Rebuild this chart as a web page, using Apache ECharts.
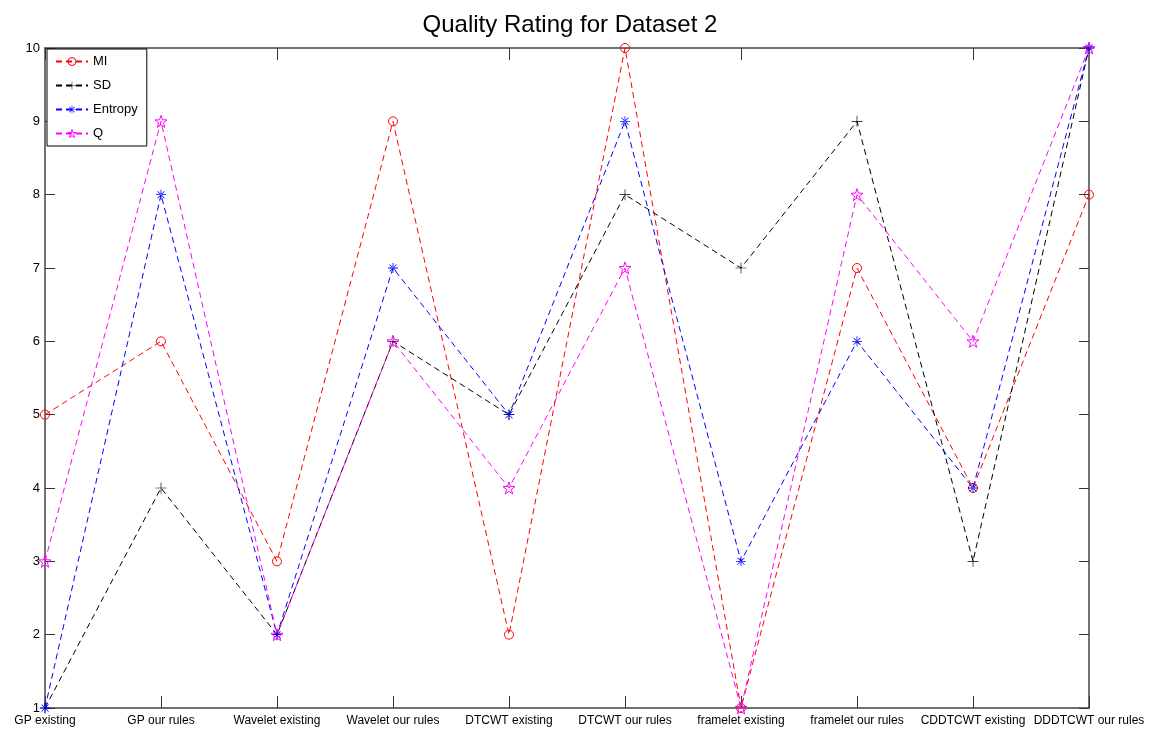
<!DOCTYPE html>
<html><head><meta charset="utf-8">
<script src="https://cdn.jsdelivr.net/npm/echarts@6/dist/echarts.min.js"></script>
<style>html,body{margin:0;padding:0;background:#fff}#c{width:1157px;height:735px}</style>
</head><body><div id="c"></div>
<script>
var categories = ["GP existing","GP our rules","Wavelet existing","Wavelet our rules","DTCWT existing","DTCWT our rules","framelet existing","framelet our rules","CDDTCWT existing","DDDTCWT our rules"];
var miValues = [5,6,3,9,2,10,1,7,4,8];
var sdValues = [1,4,2,6,5,8,7,9,3,10];
var entropyValues = [1,8,2,7,5,9,3,6,4,10];
var qValues = [3,9,2,6,4,7,1,8,6,10];
var yTicks = [1,2,3,4,5,6,7,8,9,10];

var FONT = '"Liberation Sans",Arial,sans-serif';
var plusPath = 'path://M-0.6,-10L0.6,-10L0.6,10L-0.6,10Z M-10,-0.6L10,-0.6L10,0.6L-10,0.6Z';
var astPath = 'path://M-0.8,-10L0.8,-10L0.8,10L-0.8,10Z M-10,-0.8L10,-0.8L10,0.8L-10,0.8Z M-7.5,-6.5L6.5,7.5L7.5,6.5L-6.5,-7.5Z M-7.5,6.5L-6.5,7.5L7.5,-6.5L6.5,-7.5Z';
var starPath = (function(){var p=[];for(var i=0;i<10;i++){var r=i%2?4:10;var a=-Math.PI/2+i*Math.PI/5;p.push((r*Math.cos(a)).toFixed(2)+','+(r*Math.sin(a)).toFixed(2));}return 'path://M'+p.join('L')+'Z';})();

function mk(name, data, color, symbol, size, hollow){
  return {
    name: name, type: 'line', data: data, xAxisIndex: 0, yAxisIndex: 0,
    symbol: symbol, symbolSize: size, showSymbol: true,
    lineStyle: {color: color, width: 1, type: [6,4]},
    itemStyle: hollow ? {color: 'rgba(0,0,0,0)', borderColor: color, borderWidth: 1} : {color: color, borderWidth: 0},
    emphasis: {disabled: true}, animation: false
  };
}
var hollowStyle = function(c){ return {color: 'rgba(0,0,0,0)', borderColor: c, borderWidth: 1}; };

var chart = echarts.init(document.getElementById('c'));
chart.setOption({
  animation: false,
  title: {text: 'Quality Rating for Dataset 2', left: 565, top: 8, textAlign: 'center',
    textStyle: {fontFamily: FONT, fontSize: 24, fontWeight: 'normal', color: '#000'}},
  grid: {left: 45, right: 68, top: 48, bottom: 27, containLabel: false},
  legend: {orient: 'vertical', left: 47, top: 49, itemWidth: 32, itemHeight: 10, itemGap: 11,
    padding: [6, 9, 6, 8], borderColor: '#000', borderWidth: 1, backgroundColor: '#fff',
    textStyle: {fontFamily: FONT, fontSize: 13, color: '#000'},
    data: [{name: 'MI', itemStyle: hollowStyle('#ff0000')}, 'SD', 'Entropy',
      {name: 'Q', itemStyle: hollowStyle('#ff00ff')}]},
  xAxis: [
    {type: 'category', data: categories, boundaryGap: false, position: 'bottom',
     axisLine: {lineStyle: {color: '#444', width: 1.5}},
     axisTick: {inside: true, length: 12, alignWithLabel: true, lineStyle: {color: '#333'}},
     axisLabel: {interval: 0, color: '#000', fontFamily: FONT, fontSize: 12, margin: 7},
     splitLine: {show: false}},
    {type: 'category', data: categories, boundaryGap: false, position: 'top',
     axisLine: {lineStyle: {color: '#444', width: 1.5}},
     axisTick: {inside: true, length: 12, lineStyle: {color: '#333'}},
     axisLabel: {show: false}, splitLine: {show: false}}
  ],
  yAxis: [
    {type: 'value', min: 1, max: 10, interval: 1, position: 'left',
     axisLine: {show: true, lineStyle: {color: '#444', width: 1.5}},
     axisTick: {show: true, inside: true, length: 10, lineStyle: {color: '#333'}},
     axisLabel: {color: '#000', fontFamily: FONT, fontSize: 13, margin: 5},
     splitLine: {show: false}},
    {type: 'value', min: 1, max: 10, interval: 1, position: 'right',
     axisLine: {show: true, lineStyle: {color: '#444', width: 1.5}},
     axisTick: {show: true, inside: true, length: 10, lineStyle: {color: '#333'}},
     axisLabel: {show: false}, splitLine: {show: false}}
  ],
  series: [
    mk('MI', miValues, '#ff0000', 'circle', 9, true),
    mk('SD', sdValues, '#000000', plusPath, 11, false),
    mk('Entropy', entropyValues, '#0000ff', astPath, 10, false),
    mk('Q', qValues, '#ff00ff', starPath, 12, true)
  ]
});
</script></body></html>
